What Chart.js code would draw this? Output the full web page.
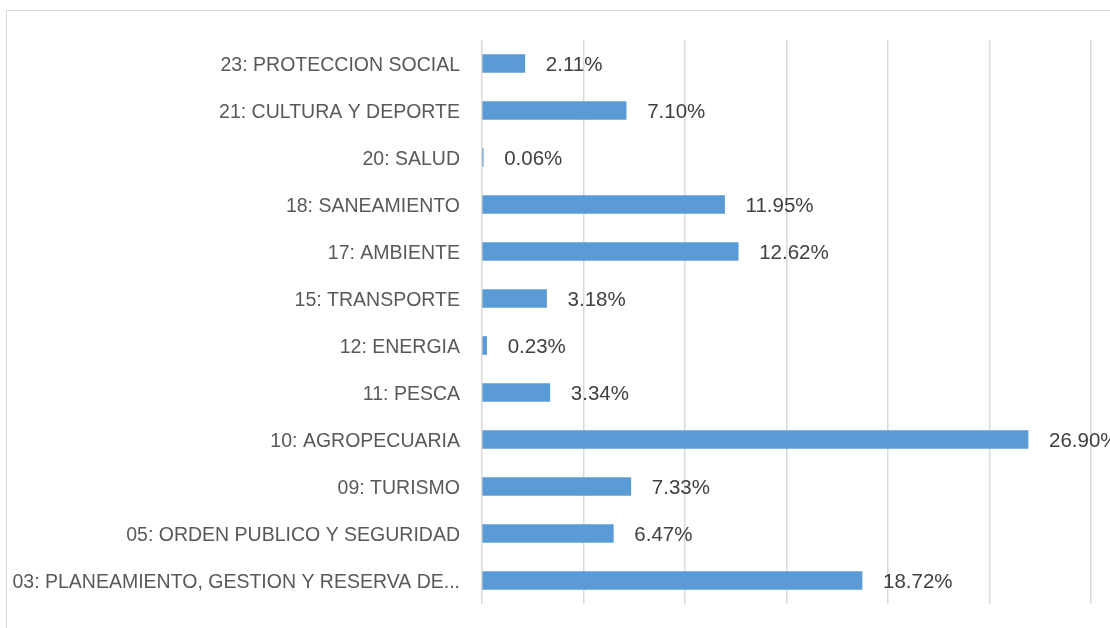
<!DOCTYPE html>
<html lang="es">
<head>
<meta charset="UTF-8">
<title>Distribución por función</title>
<style>
  body {
    margin: 0;
    width: 1110px;
    height: 628px;
    overflow: hidden;
    background: #ffffff;
    position: relative;
  }
  #marco {
    position: absolute;
    left: 6px;
    top: 10px;
    width: 1200px;
    height: 700px;
    border: 1px solid #d9d9d9;
  }
  #chart-container {
    position: absolute;
    left: 0;
    top: 0;
    width: 1110px;
    height: 628px;
  }
</style>
<script src="https://cdn.jsdelivr.net/npm/chart.js@4/dist/chart.umd.min.js"></script>
</head>
<body>
<div id="marco"></div>
<div id="chart-container">
  <canvas id="funcionChart"></canvas>
</div>

<script>
// categorías (de arriba hacia abajo, como en el gráfico)
const categorias = [
  '23: PROTECCION SOCIAL',
  '21: CULTURA Y DEPORTE',
  '20: SALUD',
  '18: SANEAMIENTO',
  '17: AMBIENTE',
  '15: TRANSPORTE',
  '12: ENERGIA',
  '11: PESCA',
  '10: AGROPECUARIA',
  '09: TURISMO',
  '05: ORDEN PUBLICO Y SEGURIDAD',
  '03: PLANEAMIENTO, GESTION Y RESERVA DE...'
];
// porcentajes
const porcentajes = [2.11, 7.10, 0.06, 11.95, 12.62, 3.18, 0.23, 3.34, 26.90, 7.33, 6.47, 18.72];
// escala del eje x (0% a 30%, cada 5%)
const ejeMin = 0;
const ejeMax = 30;
const ejePaso = 5;

const fuente = "'Liberation Sans', Arial, sans-serif";

// etiquetas de datos a la derecha de cada barra
const etiquetasPlugin = {
  id: 'etiquetas',
  afterDatasetsDraw(chart) {
    const ctx = chart.ctx;
    const meta = chart.getDatasetMeta(0);
    ctx.save();
    ctx.font = '20.5px ' + fuente;
    ctx.fillStyle = '#404040';
    ctx.textAlign = 'left';
    ctx.textBaseline = 'middle';
    meta.data.forEach((bar, i) => {
      const v = chart.data.datasets[0].data[i];
      ctx.fillText(v.toFixed(2) + '%', bar.x + 21, bar.y + 2);
    });
    ctx.restore();
  }
};

const ctx = document.getElementById('funcionChart').getContext('2d');
const funcionChart = new Chart(ctx, {
  type: 'bar',
  data: {
    labels: categorias,
    datasets: [{
      data: porcentajes,
      backgroundColor: '#5b9bd5',
      borderWidth: 0,
      barThickness: 18
    }]
  },
  options: {
    indexAxis: 'y',
    responsive: true,
    maintainAspectRatio: false,
    animation: false,
    layout: {
      padding: { left: 0, right: 19, top: 40, bottom: 24 }
    },
    plugins: {
      legend: { display: false },
      tooltip: { enabled: false }
    },
    scales: {
      x: {
        min: ejeMin,
        max: ejeMax,
        ticks: { display: false, stepSize: ejePaso },
        grid: { color: '#d9d9d9', lineWidth: 1.5, drawTicks: false },
        border: { display: false },
        afterFit(scale) {
          scale.height = 0;
          scale.paddingLeft = 0;
          scale.paddingRight = 0;
        }
      },
      y: {
        ticks: {
          color: '#595959',
          font: { family: fuente, size: 19.5 },
          padding: 22,
          labelOffset: 2,
          autoSkip: false
        },
        grid: { display: false, drawTicks: false },
        border: { display: false },
        afterFit(scale) {
          scale.width = 482;
          scale.paddingTop = 0;
          scale.paddingBottom = 0;
        }
      }
    }
  },
  plugins: [etiquetasPlugin]
});
</script>
</body>
</html>
